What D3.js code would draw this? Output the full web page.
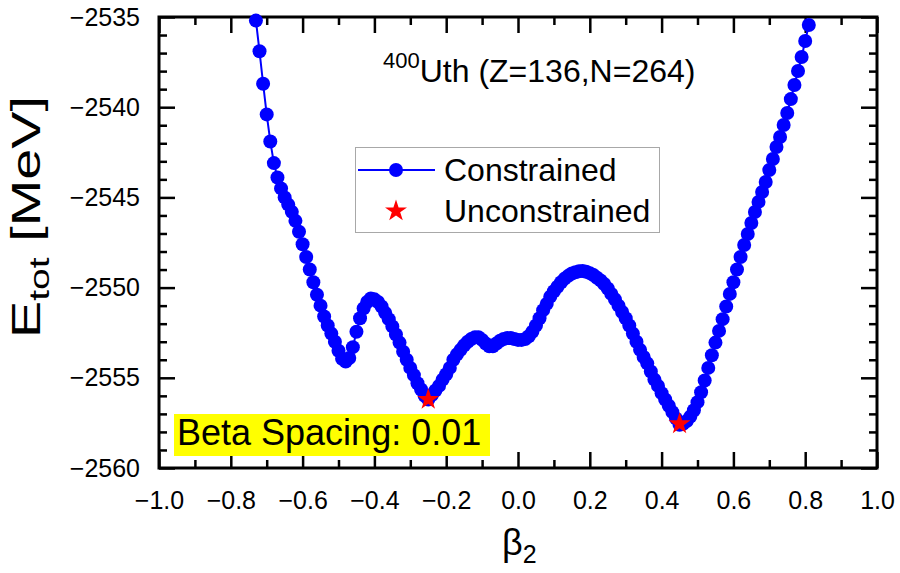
<!DOCTYPE html>
<html>
<head>
<meta charset="utf-8">
<script src="https://cdn.jsdelivr.net/npm/d3@7/dist/d3.min.js"></script>
<style>
  html, body { margin: 0; padding: 0; background: #fff; }
  svg { display: block; font-family: "Liberation Sans", Arial, sans-serif; }
</style>
</head>
<body>
<svg id="chart" width="900" height="573"></svg>
<script>
// ---- data ----
const beta = [
  -0.73,-0.72,-0.71,-0.70,-0.69,-0.68,-0.67,-0.66,-0.65,-0.64,-0.63,-0.62,-0.61,-0.60,
  -0.59,-0.58,-0.57,-0.56,-0.55,-0.54,-0.53,-0.52,-0.51,-0.50,-0.49,-0.48,-0.47,-0.46,
  -0.45,-0.44,-0.43,-0.42,-0.41,-0.40,-0.39,-0.38,-0.37,-0.36,-0.35,-0.34,-0.33,-0.32,
  -0.31,-0.30,-0.29,-0.28,-0.27,-0.26,-0.25,-0.24,-0.23,-0.22,-0.21,-0.20,-0.19,-0.18,
  -0.17,-0.16,-0.15,-0.14,-0.13,-0.12,-0.11,-0.10,-0.09,-0.08,-0.07,-0.06,-0.05,-0.04,
  -0.03,-0.02,-0.01,0.00,0.01,0.02,0.03,0.04,0.05,0.06,0.07,0.08,0.09,0.10,
  0.11,0.12,0.13,0.14,0.15,0.16,0.17,0.18,0.19,0.20,0.21,0.22,0.23,0.24,
  0.25,0.26,0.27,0.28,0.29,0.30,0.31,0.32,0.33,0.34,0.35,0.36,0.37,0.38,
  0.39,0.40,0.41,0.42,0.43,0.44,0.45,0.46,0.47,0.48,0.49,0.50,0.51,0.52,
  0.53,0.54,0.55,0.56,0.57,0.58,0.59,0.60,0.61,0.62,0.63,0.64,0.65,0.66,
  0.67,0.68,0.69,0.70,0.71,0.72,0.73,0.74,0.75,0.76,0.77,0.78,0.79,0.80,0.81
];
const energyConstrained = [
  -2535.2,-2536.9,-2538.7,-2540.4,-2541.9,-2543.1,-2543.9,-2544.5,-2545.0,-2545.4,-2545.8,-2546.3,-2546.9,-2547.6,
  -2548.3,-2549.0,-2549.7,-2550.4,-2551.0,-2551.6,-2552.1,-2552.55,-2553.0,-2553.5,-2553.95,-2554.1,-2553.9,-2553.3,
  -2552.45,-2551.7,-2551.15,-2550.8,-2550.6,-2550.65,-2550.8,-2551.05,-2551.4,-2551.75,-2552.15,-2552.6,-2553.05,-2553.55,
  -2554.0,-2554.45,-2554.85,-2555.3,-2555.65,-2556.0,-2556.2,-2555.95,-2555.7,-2555.45,-2555.1,-2554.8,-2554.45,-2554.0,
  -2553.7,-2553.45,-2553.2,-2553.0,-2552.85,-2552.75,-2552.75,-2552.9,-2553.1,-2553.25,-2553.25,-2553.1,-2552.95,-2552.85,
  -2552.8,-2552.8,-2552.85,-2552.9,-2552.9,-2552.85,-2552.7,-2552.45,-2552.1,-2551.7,-2551.25,-2550.9,-2550.5,-2550.2,
  -2549.95,-2549.7,-2549.5,-2549.35,-2549.22,-2549.15,-2549.1,-2549.08,-2549.12,-2549.2,-2549.3,-2549.45,-2549.6,-2549.8,
  -2550.05,-2550.35,-2550.65,-2551.0,-2551.35,-2551.7,-2552.1,-2552.55,-2553.0,-2553.45,-2553.85,-2554.2,-2554.65,-2555.1,
  -2555.45,-2555.85,-2556.2,-2556.55,-2556.9,-2557.25,-2557.6,-2557.55,-2557.4,-2557.15,-2556.8,-2556.35,-2555.8,-2555.15,
  -2554.45,-2553.75,-2553.05,-2552.4,-2551.75,-2551.05,-2550.35,-2549.7,-2549.0,-2548.3,-2547.64,-2547.03,-2546.42,-2545.81,
  -2545.25,-2544.7,-2544.15,-2543.48,-2542.87,-2542.21,-2541.65,-2540.99,-2540.32,-2539.55,-2538.77,-2537.99,-2537.22,-2536.33,-2535.44
];
const betaUnconstrained = [-0.25, 0.45];
const energyUnconstrained = [-2556.2, -2557.55];

const xTickValues = [-1.0,-0.8,-0.6,-0.4,-0.2,0.0,0.2,0.4,0.6,0.8,1.0];
const xMinorValues = [-0.9,-0.7,-0.5,-0.3,-0.1,0.1,0.3,0.5,0.7,0.9];
const yTickValues = [-2560,-2555,-2550,-2545,-2540,-2535];
const yMinorValues = [-2559,-2558,-2557,-2556,-2554,-2553,-2552,-2551,-2549,-2548,-2547,-2546,
                      -2544,-2543,-2542,-2541,-2539,-2538,-2537,-2536];

const legendLabels = ["Constrained", "Unconstrained"];
const nucleusMass = "400";
const nucleusLabel = "Uth (Z=136,N=264)";
const spacingLabel = "Beta Spacing: 0.01";

// ---- layout ----
const L = 159, R = 877, T = 17, B = 468;
const svg = d3.select("#chart");
const x = d3.scaleLinear().domain([-1, 1]).range([L, R]);
const y = d3.scaleLinear().domain([-2560, -2535]).range([B, T]);

const fmtX = d3.format(".1f");
const fmtY = d3.format("d");

function styleAxis(g) {
  g.select(".domain").remove();
  g.selectAll(".tick line").attr("stroke", "#000").attr("stroke-width", 2.5);
  g.selectAll(".tick text").attr("fill", "#000")
    .style("font-family", '"Liberation Sans", Arial, sans-serif').style("font-size", "25px");
}

// major ticks
svg.append("g").attr("transform", `translate(0,${B})`)
  .call(d3.axisBottom(x).tickValues(xTickValues).tickFormat(fmtX).tickSizeInner(-16).tickSizeOuter(0).tickPadding(23))
  .call(styleAxis);
svg.append("g").attr("transform", `translate(0,${T})`)
  .call(d3.axisTop(x).tickValues(xTickValues).tickFormat("").tickSizeInner(-16).tickSizeOuter(0))
  .call(styleAxis);
svg.append("g").attr("transform", `translate(${L},0)`)
  .call(d3.axisLeft(y).tickValues(yTickValues).tickFormat(fmtY).tickSizeInner(-16).tickSizeOuter(0).tickPadding(19))
  .call(styleAxis);
svg.append("g").attr("transform", `translate(${R},0)`)
  .call(d3.axisRight(y).tickValues(yTickValues).tickFormat("").tickSizeInner(-16).tickSizeOuter(0))
  .call(styleAxis);
// minor ticks
svg.append("g").attr("transform", `translate(0,${B})`)
  .call(d3.axisBottom(x).tickValues(xMinorValues).tickFormat("").tickSizeInner(-8).tickSizeOuter(0)).call(styleAxis);
svg.append("g").attr("transform", `translate(0,${T})`)
  .call(d3.axisTop(x).tickValues(xMinorValues).tickFormat("").tickSizeInner(-8).tickSizeOuter(0)).call(styleAxis);
svg.append("g").attr("transform", `translate(${L},0)`)
  .call(d3.axisLeft(y).tickValues(yMinorValues).tickFormat("").tickSizeInner(-8).tickSizeOuter(0)).call(styleAxis);
svg.append("g").attr("transform", `translate(${R},0)`)
  .call(d3.axisRight(y).tickValues(yMinorValues).tickFormat("").tickSizeInner(-8).tickSizeOuter(0)).call(styleAxis);

// frame
svg.append("rect").attr("x", L).attr("y", T).attr("width", R - L).attr("height", B - T)
  .attr("fill", "none").attr("stroke", "#000").attr("stroke-width", 3);

// curve
const pts = beta.map((b, i) => [b, energyConstrained[i]]);
svg.append("path").datum(pts)
  .attr("fill", "none").attr("stroke", "#0000ff").attr("stroke-width", 2)
  .attr("d", d3.line().x(d => x(d[0])).y(d => y(d[1])));
svg.append("g").selectAll("circle").data(pts).join("circle")
  .attr("cx", d => x(d[0])).attr("cy", d => y(d[1])).attr("r", 7).attr("fill", "#0000ff");

// stars
const star = d3.symbol().type(d3.symbolStar).size(150);
svg.append("g").selectAll("path").data(betaUnconstrained.map((b, i) => [b, energyUnconstrained[i]])).join("path")
  .attr("transform", d => `translate(${x(d[0])},${y(d[1])})`)
  .attr("d", star).attr("fill", "#ff0000");

// legend
svg.append("rect").attr("x", 355.5).attr("y", 147.5).attr("width", 304).attr("height", 85)
  .attr("fill", "none").attr("stroke", "#a8a8a8").attr("stroke-width", 1);
svg.append("line").attr("x1", 358).attr("x2", 435).attr("y1", 170).attr("y2", 170)
  .attr("stroke", "#0000ff").attr("stroke-width", 2);
svg.append("circle").attr("cx", 396).attr("cy", 170).attr("r", 7).attr("fill", "#0000ff");
svg.append("path").attr("transform", "translate(396,211)").attr("d", star).attr("fill", "#ff0000");
svg.append("text").attr("x", 444).attr("y", 181).attr("font-size", 32).text(legendLabels[0]);
svg.append("text").attr("x", 444).attr("y", 222).attr("font-size", 32).text(legendLabels[1]);

// nucleus annotation
const ann = svg.append("text").attr("x", 383).attr("y", 82).attr("font-size", 32);
ann.append("tspan").attr("font-size", 22).attr("dy", -14).text(nucleusMass);
ann.append("tspan").attr("dy", 14).text(nucleusLabel);

// beta spacing label
svg.append("rect").attr("x", 174).attr("y", 414).attr("width", 316).attr("height", 42).attr("fill", "#ffff00");
svg.append("text").attr("x", 177).attr("y", 445).attr("font-size", 36).text(spacingLabel);

// axis titles
const yt = svg.append("text").attr("transform", "translate(40,338) rotate(-90)").attr("font-size", 40)
  .attr("textLength", 242).attr("lengthAdjust", "spacingAndGlyphs");
yt.append("tspan").text("E");
yt.append("tspan").attr("font-size", 28).attr("dy", 9).text("tot");
yt.append("tspan").attr("dy", -9).text(" [MeV]");

const xt = svg.append("text").attr("x", 502).attr("y", 555).attr("font-size", 36);
xt.append("tspan").text("β");
xt.append("tspan").attr("font-size", 25).attr("dy", 8).text("2");
</script>
</body>
</html>
